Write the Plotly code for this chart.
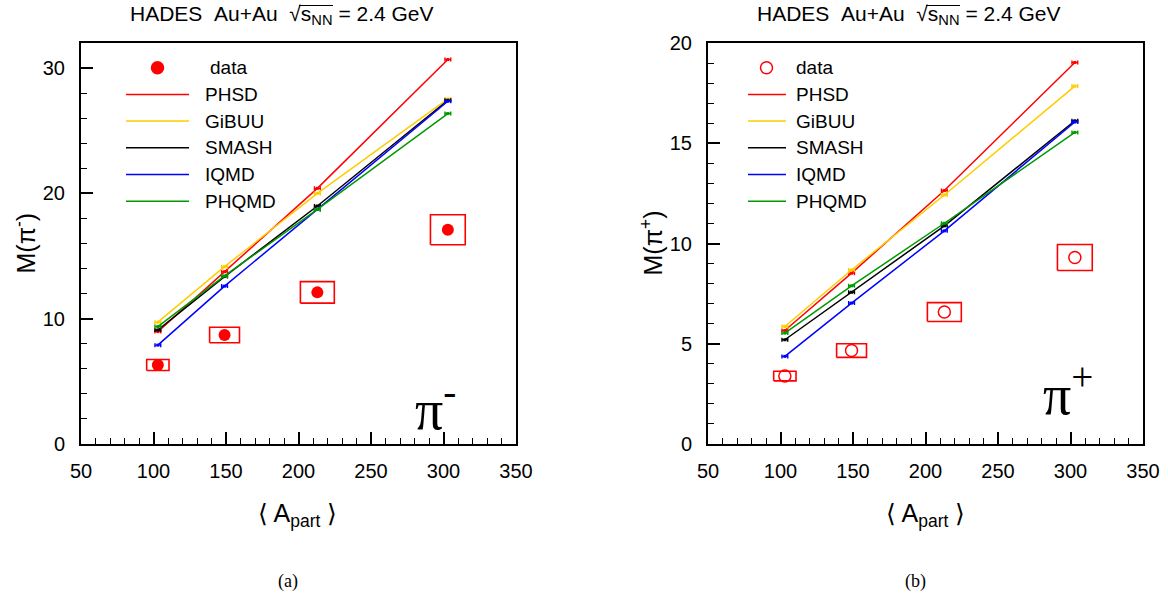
import plotly.graph_objects as go

W, H = 1168, 601

# ---------------- data ----------------
apart = [103, 149, 213, 303]
apart_err = [7.7, 10.3, 11.7, 12.0]

pim_data = [6.3, 8.7, 12.1, 17.1]
pim_sys = [0.44, 0.62, 0.86, 1.2]
pim_phsd = [8.97, 13.75, 20.4, 30.68]
pim_gibuu = [9.72, 14.15, 20.0, 27.54]
pim_smash = [9.1, 13.36, 18.99, 27.43]
pim_iqmd = [7.89, 12.6, 18.72, 27.35]
pim_phqmd = [9.37, 13.41, 18.72, 26.37]

pip_data = [3.39, 4.66, 6.58, 9.30]
pip_sys = [0.24, 0.34, 0.47, 0.65]
pip_phsd = [5.66, 8.52, 12.64, 19.03]
pip_gibuu = [5.86, 8.68, 12.42, 17.85]
pip_smash = [5.2, 7.57, 10.88, 16.12]
pip_iqmd = [4.37, 7.03, 10.63, 16.06]
pip_phqmd = [5.53, 7.89, 11.01, 15.54]

models = ["PHSD", "GiBUU", "SMASH", "IQMD", "PHQMD"]
colors = ["#ff0000", "#ffcc00", "#000000", "#0000ff", "#009900"]

x_ticks = [50, 100, 150, 200, 250, 300, 350]
y_ticks_left = [0, 10, 20, 30]
y_ticks_right = [0, 5, 10, 15, 20]

FONT = "Liberation Sans, Arial, sans-serif"
SERIF = "Liberation Serif, Times New Roman, serif"


def px(x):
    return x / W


def py(y):
    return 1 - y / H


fig = go.Figure()


def add_panel(xa, ya, data, sys, model_vals, open_marker):
    bx, by = [], []
    for x, dx, y, e in zip(apart, apart_err, data, sys):
        bx += [x - dx, x + dx, x + dx, x - dx, x - dx, None]
        by += [y - e, y - e, y + e, y + e, y - e, None]
    fig.add_trace(go.Scatter(x=bx, y=by, mode="lines", xaxis=xa, yaxis=ya,
                             line=dict(color="#ff0000", width=1.6),
                             showlegend=False, hoverinfo="skip"))
    for vals, c in zip(model_vals, colors):
        fig.add_trace(go.Scatter(
            x=apart, y=vals, mode="lines+markers", xaxis=xa, yaxis=ya,
            line=dict(color=c, width=1.5),
            marker=dict(size=3, color=c, symbol="square"),
            error_x=dict(type="constant", value=2, width=2, thickness=1.4, color=c),
            showlegend=False))
    if open_marker:
        mk = dict(symbol="circle-open", size=12, color="#ff0000", line=dict(width=1.5, color="#ff0000"))
    else:
        mk = dict(symbol="circle", size=12, color="#ff0000")
    fig.add_trace(go.Scatter(x=apart, y=data, mode="markers", xaxis=xa, yaxis=ya,
                             marker=mk, showlegend=False))


add_panel("x", "y", pim_data, pim_sys,
          [pim_phsd, pim_gibuu, pim_smash, pim_iqmd, pim_phqmd], False)
add_panel("x2", "y2", pip_data, pip_sys,
          [pip_phsd, pip_gibuu, pip_smash, pip_iqmd, pip_phqmd], True)

axis_common = dict(
    showgrid=False, zeroline=False, showline=True, linewidth=2, linecolor="black",
    mirror=True, ticks="inside", ticklen=12, tickwidth=1.5, tickcolor="black",
    automargin=False,
    tickfont=dict(family=FONT, size=20, color="black"),
)

dom_y = [py(444), py(43)]
fig.update_layout(
    width=W, height=H, autosize=False,
    margin=dict(l=0, r=0, t=0, b=0, pad=0, autoexpand=False),
    paper_bgcolor="white", plot_bgcolor="white",
    xaxis=dict(domain=[px(81), px(516)], range=[50, 350], tickvals=x_ticks,
               ticklabelstandoff=8,
               minor=dict(dtick=10, ticklen=6, ticks="inside", tickcolor="black", tickwidth=1.2),
               anchor="y", **axis_common),
    yaxis=dict(domain=dom_y, range=[0, 32], tickvals=y_ticks_left,
               ticklabelstandoff=10,
               minor=dict(dtick=2, ticklen=6, ticks="inside", tickcolor="black", tickwidth=1.2),
               anchor="x", **axis_common),
    xaxis2=dict(domain=[px(708), px(1143)], range=[50, 350], tickvals=x_ticks,
                ticklabelstandoff=8,
                minor=dict(dtick=10, ticklen=6, ticks="inside", tickcolor="black", tickwidth=1.2),
                anchor="y2", **axis_common),
    yaxis2=dict(domain=dom_y, range=[0, 20], tickvals=y_ticks_right,
                ticklabelstandoff=10,
                minor=dict(dtick=1, ticklen=6, ticks="inside", tickcolor="black", tickwidth=1.2),
                anchor="x2", **axis_common),
)

ann = []
shapes = []
title_txt = "HADES\u00a0\u00a0Au+Au\u00a0\u00a0\u221as<sub>NN</sub> = 2.4 GeV"

panels = [
    dict(title_x=282, bar=(299, 333), ytitle="M(\u03c0<sup>-</sup>)", ytitle_x=25, xtitle_x=297,
         lab="(a)", lab_x=288, leg_line=(126, 189), leg_mark=157.5, leg_text=203,
         pi_txt="\u03c0<sup>-</sup>", pi_x=413, pi_y=405, open=False),
    dict(title_x=909, bar=(926, 960), ytitle="M(\u03c0<sup>+</sup>)", ytitle_x=652, xtitle_x=925,
         lab="(b)", lab_x=915, leg_line=(748, 786), leg_mark=766.5, leg_text=794,
         pi_txt="\u03c0<sup>+</sup>", pi_x=1041, pi_y=390, open=True),
]

rows_y = [67.7, 94.4, 121.1, 147.8, 174.5, 201.2]

for p in panels:
    ann.append(dict(text=title_txt, x=px(p["title_x"]), y=py(15.5), xref="paper", yref="paper",
                    xanchor="center", yanchor="middle", showarrow=False,
                    font=dict(family=FONT, size=21, color="black")))
    # radical bar over s_NN
    shapes.append(dict(type="line", xref="paper", yref="paper",
                       x0=px(p["bar"][0]), x1=px(p["bar"][1]), y0=py(5.5), y1=py(5.5),
                       line=dict(color="black", width=1.2)))
    ann.append(dict(text=p["ytitle"], x=px(p["ytitle_x"]), y=py(243.5), xref="paper", yref="paper",
                    xanchor="center", yanchor="middle", showarrow=False, textangle=-90,
                    font=dict(family=FONT, size=25, color="black")))
    ann.append(dict(text="\u27e8 A<sub>part</sub> \u27e9", x=px(p["xtitle_x"]), y=py(515),
                    xref="paper", yref="paper", xanchor="center", yanchor="middle",
                    showarrow=False, font=dict(family=FONT, size=25, color="black")))
    ann.append(dict(text=p["lab"], x=px(p["lab_x"]), y=py(581), xref="paper", yref="paper",
                    xanchor="center", yanchor="middle", showarrow=False,
                    font=dict(family=SERIF, size=18, color="black")))
    ann.append(dict(text=p["pi_txt"], x=px(p["pi_x"]), y=py(p["pi_y"]), xref="paper", yref="paper",
                    xanchor="left", yanchor="middle", showarrow=False,
                    font=dict(family=SERIF, size=56, color="black")))
    r = 6
    cx, cy = p["leg_mark"], rows_y[0]
    shapes.append(dict(type="circle", xref="paper", yref="paper",
                       x0=px(cx - r), x1=px(cx + r), y0=py(cy + r), y1=py(cy - r),
                       line=dict(color="#ff0000", width=1.5),
                       fillcolor="white" if p["open"] else "#ff0000"))
    ann.append(dict(text="data", x=px(p["leg_text"] + (5 if not p["open"] else 0)), y=py(rows_y[0]),
                    xref="paper", yref="paper", xanchor="left", yanchor="middle", showarrow=False,
                    font=dict(family=FONT, size=19, color="black")))
    for name, c, ry in zip(models, colors, rows_y[1:]):
        shapes.append(dict(type="line", xref="paper", yref="paper",
                           x0=px(p["leg_line"][0]), x1=px(p["leg_line"][1]), y0=py(ry), y1=py(ry),
                           line=dict(color=c, width=1.5)))
        ann.append(dict(text=name, x=px(p["leg_text"]), y=py(ry), xref="paper", yref="paper",
                        xanchor="left", yanchor="middle", showarrow=False,
                        font=dict(family=FONT, size=19, color="black")))

fig.update_layout(annotations=ann, shapes=shapes)
fig.write_html("out.html")
